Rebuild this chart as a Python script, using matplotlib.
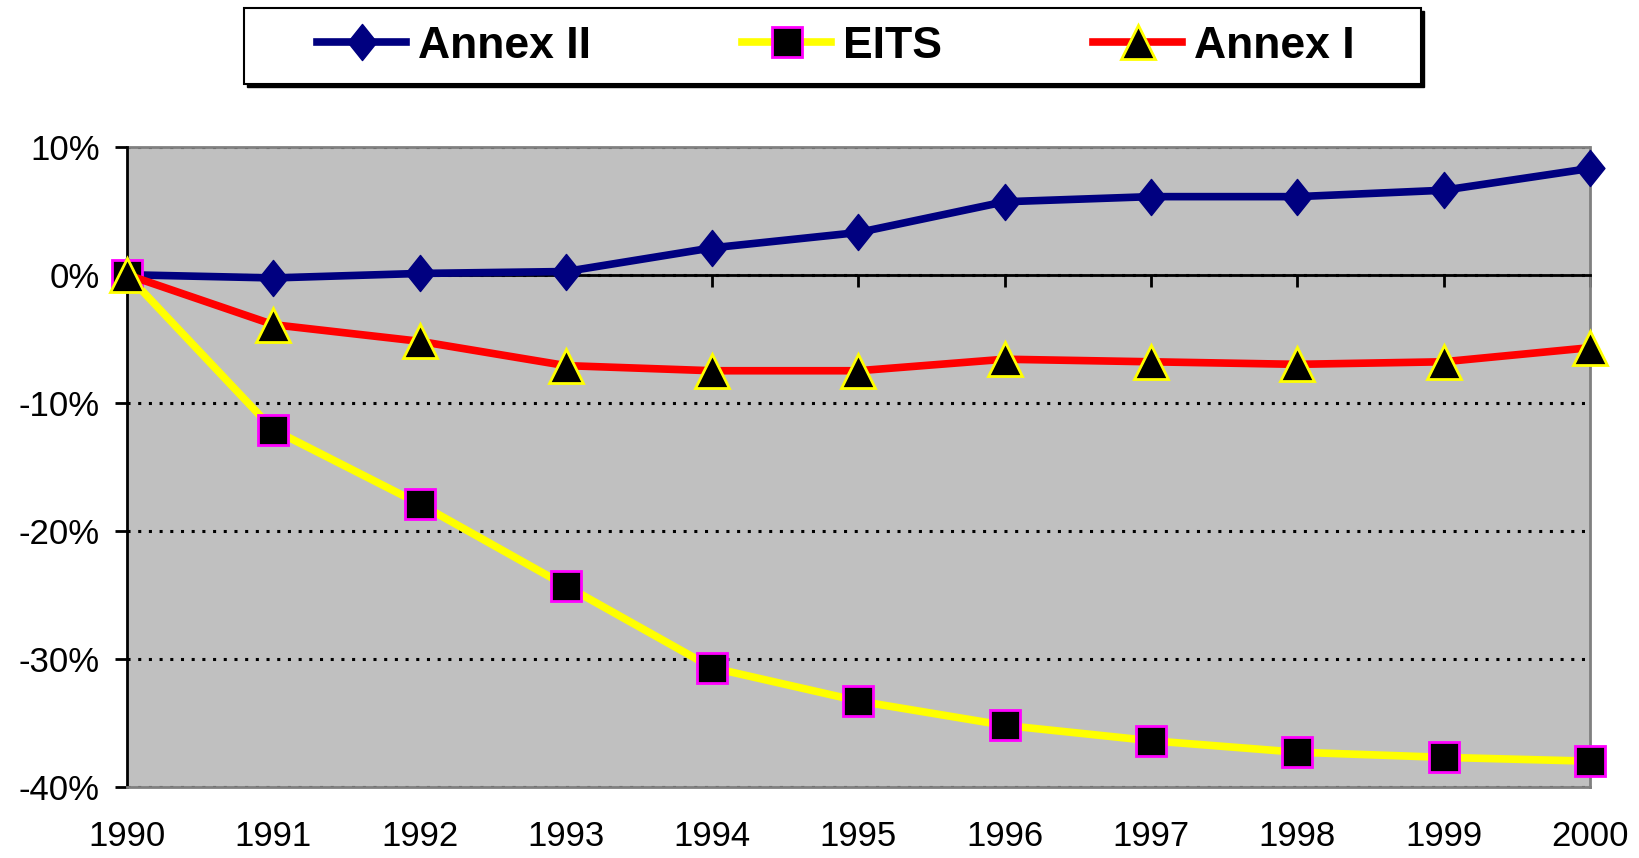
import matplotlib
matplotlib.use('Agg')
from matplotlib import pyplot as plt
from matplotlib.patches import Rectangle
from matplotlib.path import Path

years = [1990, 1991, 1992, 1993, 1994, 1995, 1996, 1997, 1998, 1999, 2000]
annex2 = [0.0, -0.25, 0.1, 0.25, 2.1, 3.3, 5.7, 6.1, 6.1, 6.6, 8.3]
eits = [0.0, -12.1, -17.9, -24.3, -30.7, -33.3, -35.2, -36.4, -37.3, -37.7, -38.0]
annex1 = [0.0, -3.9, -5.2, -7.1, -7.5, -7.5, -6.6, -6.8, -7.0, -6.8, -5.7]

ytick_vals = [10, 0, -10, -20, -30, -40]
ytick_labels = ['10%', '0%', '-10%', '-20%', '-30%', '-40%']

plt.rcParams['font.family'] = ['Liberation Sans', 'DejaVu Sans']

fig = plt.figure(figsize=(16.39, 8.58), dpi=100)
ax = fig.add_axes([0.0775, 0.083, 0.8925, 0.746])
ax.set_facecolor('#C0C0C0')

# slightly tall diamond, like the excel one
diamond = Path([(0, 1), (0.8, 0), (0, -1), (-0.8, 0), (0, 1)],
               [Path.MOVETO, Path.LINETO, Path.LINETO, Path.LINETO, Path.CLOSEPOLY])

lw = 5.5
ax.plot(years, annex2, color='#000080', linewidth=lw, marker=diamond,
        markersize=26, markerfacecolor='#000080', markeredgecolor='#000080',
        label='Annex II', clip_on=False, zorder=3)
ax.plot(years, eits, color='#FFFF00', linewidth=lw, marker='s',
        markersize=22, markerfacecolor='black', markeredgecolor='#FF00FF',
        markeredgewidth=2, label='EITS', clip_on=False, zorder=4)
ax.plot(years, annex1, color='#FF0000', linewidth=lw, marker='^',
        markersize=24, markerfacecolor='black', markeredgecolor='#FFFF00',
        markeredgewidth=2, label='Annex I', clip_on=False, zorder=5)

ax.set_xlim(1990, 2000)
ax.set_ylim(-40, 10)
ax.set_yticks(ytick_vals)
ax.set_yticklabels(ytick_labels)
ax.set_xticks(years)
ax.set_xticklabels([str(y) for y in years])

ax.yaxis.grid(True, color='black', linestyle=(0, (1, 2.5)), linewidth=2.2)
ax.set_axisbelow(True)

# zero line carries the x ticks, labels stay at the bottom
ax.spines['top'].set_position(('data', 0))
ax.spines['top'].set_color('black')
ax.spines['top'].set_linewidth(2)
ax.spines['top'].set_zorder(2.5)
ax.spines['bottom'].set_color('#808080')
ax.spines['bottom'].set_linewidth(2)
ax.spines['right'].set_color('#808080')
ax.spines['right'].set_linewidth(2)
ax.spines['left'].set_color('black')
ax.spines['left'].set_linewidth(2)
ax.add_patch(Rectangle((0, 1), 1, 0, transform=ax.transAxes, fill=False,
                       edgecolor='#808080', linewidth=2, clip_on=False))

ax.tick_params(axis='x', which='both', bottom=False, top=True, labelbottom=True,
               labeltop=False, labelsize=25, pad=24)
ax.tick_params(axis='x', top=True, direction='in', length=8.6, width=2, color='black')
ax.tick_params(axis='y', direction='out', length=8.6, width=2, labelsize=25, pad=11)

# legend box with a small shadow
fig.patches.append(Rectangle((0.1508, 0.8985), 0.718, 0.089, transform=fig.transFigure,
                             facecolor='black', edgecolor='black', zorder=0))
fig.patches.append(Rectangle((0.149, 0.902), 0.718, 0.089, transform=fig.transFigure,
                             facecolor='white', edgecolor='black', linewidth=1.5, zorder=1))
leg = fig.legend(loc='center', bbox_to_anchor=(0.510, 0.946), ncol=3, frameon=False,
                 prop={'weight': 'bold', 'size': 32}, handlelength=2.0,
                 handletextpad=0.27, columnspacing=3.4, borderpad=0)

fig.savefig('out.png', dpi=100)
